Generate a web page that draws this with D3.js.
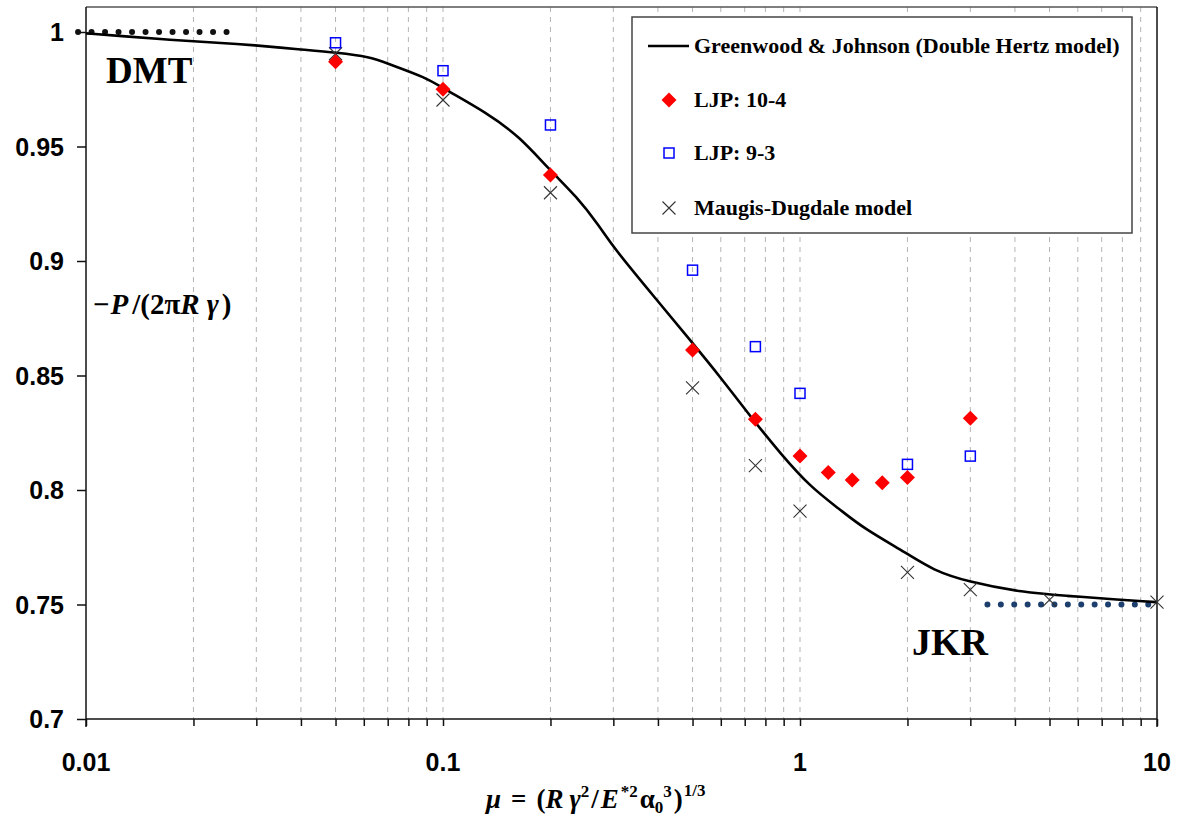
<!DOCTYPE html>
<html>
<head>
<meta charset="utf-8">
<script src="https://cdn.jsdelivr.net/npm/d3@7"></script>
<style>
  html, body { margin: 0; padding: 0; background: #fff; }
  svg { display: block; }
</style>
</head>
<body>
<svg id="chart" width="1179" height="817"></svg>
<script>
// Greenwood & Johnson (double Hertz model) pull-off curve
const gjMu   = [0.01, 0.0124, 0.0172, 0.0237, 0.0293, 0.0397, 0.0505, 0.0625, 0.0697, 0.09, 0.1,
                0.133, 0.164, 0.199, 0.237, 0.275, 0.299, 0.397, 0.492, 0.597, 0.739, 0.879,
                1.067, 1.294, 1.501, 2.0, 2.358, 2.937, 4.213, 5.706, 6.925, 9.56, 10];
const gjLoad = [0.9994, 0.9983, 0.9965, 0.9953, 0.9943, 0.9924, 0.9910, 0.9891, 0.9863, 0.980, 0.9754,
                0.9646, 0.9543, 0.9397, 0.9281, 0.915, 0.9062, 0.883, 0.8655, 0.8495, 0.8306, 0.8162,
                0.8014, 0.7915, 0.7834, 0.7722, 0.765, 0.760, 0.7552, 0.7537, 0.7527, 0.7512, 0.751];

// Lennard-Jones potential, 10-4 law
const ljp104Mu   = [0.05, 0.1, 0.2, 0.5, 0.75, 1, 1.2, 1.4, 1.7, 2, 3];
const ljp104Load = [0.987, 0.975, 0.9376, 0.8611, 0.8309, 0.8148, 0.8076, 0.8044, 0.8032, 0.8055, 0.8313];

// Lennard-Jones potential, 9-3 law
const ljp93Mu   = [0.05, 0.1, 0.2, 0.5, 0.75, 1, 2, 3];
const ljp93Load = [0.9953, 0.9831, 0.9594, 0.896, 0.8626, 0.8422, 0.8112, 0.8148];

// Maugis-Dugdale model
const mdMu   = [0.05, 0.1, 0.2, 0.5, 0.75, 1, 2, 3, 5, 10];
const mdLoad = [0.9905, 0.9703, 0.9298, 0.8446, 0.8106, 0.7908, 0.7640, 0.7565, 0.752, 0.751];

// DMT and JKR limits
const dmtMu = [0.0095, 0.026];
const dmtLoad = [1, 1];
const jkrMu = [3.35, 10];
const jkrLoad = [0.75, 0.75];

const xTickValues = [0.01, 0.1, 1, 10];
const xTickLabels = ["0.01", "0.1", "1", "10"];
const yTickValues = [0.7, 0.75, 0.8, 0.85, 0.9, 0.95, 1];
const yTickLabels = ["0.7", "0.75", "0.8", "0.85", "0.9", "0.95", "1"];

const legendLabels = ["Greenwood & Johnson (Double Hertz model)", "LJP: 10-4", "LJP: 9-3", "Maugis-Dugdale model"];

const zip = (xs, ys) => xs.map((x, i) => ({ x, y: ys[i] }));

const svg = d3.select("#chart");
const W = 1179, H = 817;
const plot = { left: 86, right: 1157, top: 7, bottom: 719 };

svg.append("rect").attr("width", W).attr("height", H).attr("fill", "#fff");

const x = d3.scaleLog().domain([0.01, 10]).range([plot.left, plot.right]);
const y = d3.scaleLinear().domain([0.7, 1]).range([plot.bottom, 32]);

// minor log positions for grid and ticks
const logTicks = x.ticks(); // 0.01,0.02,...,10

// vertical dashed grid
svg.append("g").selectAll("line")
  .data(logTicks.filter(v => v > 0.0100001 && v < 9.9999))
  .join("line")
  .attr("x1", d => x(d)).attr("x2", d => x(d))
  .attr("y1", plot.top).attr("y2", plot.bottom)
  .attr("stroke", "#b4b4b4").attr("stroke-width", 1)
  .attr("stroke-dasharray", "5,5");

// plot frame (top / right)
svg.append("line").attr("x1", plot.left).attr("x2", plot.right)
  .attr("y1", plot.top).attr("y2", plot.top)
  .attr("stroke", "#555").attr("stroke-width", 1.5);
svg.append("line").attr("x1", plot.right).attr("x2", plot.right)
  .attr("y1", plot.top).attr("y2", plot.bottom + 8)
  .attr("stroke", "#111").attr("stroke-width", 1.5);

// x axis
const xAxis = d3.axisBottom(x).tickValues(logTicks).tickSize(7).tickFormat("");
const gx = svg.append("g").attr("transform", `translate(0,${plot.bottom})`).call(xAxis);
gx.select(".domain").attr("stroke", "#111").attr("stroke-width", 1.5).attr("d", `M${plot.left},0H${plot.right}`);
gx.selectAll(".tick line").attr("stroke", "#111").attr("stroke-width", 1.5);

svg.append("g").selectAll("text")
  .data(xTickValues)
  .join("text")
  .attr("x", d => x(d)).attr("y", 771)
  .attr("text-anchor", "middle")
  .attr("font-family", "Liberation Sans, Arial, sans-serif")
  .attr("font-weight", "bold").attr("font-size", 25)
  .attr("fill", "#000")
  .text((d, i) => xTickLabels[i]);

// y axis
const yAxis = d3.axisLeft(y).tickValues(yTickValues).tickSize(9).tickFormat("");
const gy = svg.append("g").attr("transform", `translate(${plot.left},0)`).call(yAxis);
gy.select(".domain").attr("stroke", "#111").attr("stroke-width", 1.5).attr("d", `M0,${plot.top}V${plot.bottom + 8}`);
gy.selectAll(".tick line").attr("stroke", "#111").attr("stroke-width", 1.5);

svg.append("g").selectAll("text")
  .data(yTickValues)
  .join("text")
  .attr("x", 64).attr("y", d => y(d) + 9)
  .attr("text-anchor", "end")
  .attr("font-family", "Liberation Sans, Arial, sans-serif")
  .attr("font-weight", "bold").attr("font-size", 25)
  .attr("fill", "#000")
  .text((d, i) => yTickLabels[i]);

// DMT / JKR dotted limits
const limitLine = d3.line().x(d => x(d.x)).y(d => y(d.y));
svg.append("path").attr("d", limitLine(zip(dmtMu, dmtLoad)))
  .attr("fill", "none").attr("stroke", "#111").attr("stroke-width", 6)
  .attr("stroke-linecap", "round").attr("stroke-dasharray", "0,13.5");
svg.append("path").attr("d", limitLine(zip(jkrMu, jkrLoad)))
  .attr("fill", "none").attr("stroke", "#1c3f6e").attr("stroke-width", 6)
  .attr("stroke-linecap", "round").attr("stroke-dasharray", "0,13.4");

// Greenwood & Johnson curve
svg.append("path")
  .attr("d", d3.line().curve(d3.curveBasis).x(d => x(d.x)).y(d => y(d.y))(zip(gjMu, gjLoad)))
  .attr("fill", "none").attr("stroke", "#000").attr("stroke-width", 2.6)
  .attr("stroke-linejoin", "round");

// marker shapes
const crossPath = s => `M${-s},${-s}L${s},${s}M${-s},${s}L${s},${-s}`;
const diamondPath = s => `M0,${-s}L${s},0L0,${s}L${-s},0Z`;

// Maugis-Dugdale crosses
svg.append("g").selectAll("path")
  .data(zip(mdMu, mdLoad)).join("path")
  .attr("transform", d => `translate(${x(d.x)},${y(d.y)})`)
  .attr("d", crossPath(6.5))
  .attr("stroke", "#333").attr("stroke-width", 1.1).attr("fill", "none");

// LJP 9-3 squares
svg.append("g").selectAll("rect")
  .data(zip(ljp93Mu, ljp93Load)).join("rect")
  .attr("x", d => x(d.x) - 5).attr("y", d => y(d.y) - 5)
  .attr("width", 10).attr("height", 10)
  .attr("fill", "none").attr("stroke", "#0000ff").attr("stroke-width", 1.5);

// LJP 10-4 diamonds
svg.append("g").selectAll("path")
  .data(zip(ljp104Mu, ljp104Load)).join("path")
  .attr("transform", d => `translate(${x(d.x)},${y(d.y)})`)
  .attr("d", diamondPath(7.5))
  .attr("fill", "#ff0000");

// region labels
const serif = "Liberation Serif, 'Times New Roman', serif";
svg.append("text").attr("x", 106).attr("y", 83)
  .attr("font-family", serif).attr("font-weight", "bold").attr("font-size", 37)
  .text("DMT");
svg.append("text").attr("x", 912).attr("y", 655)
  .attr("font-family", serif).attr("font-weight", "bold").attr("font-size", 38)
  .text("JKR");

// legend
const lg = svg.append("g");
lg.append("rect").attr("x", 632).attr("y", 17).attr("width", 500).attr("height", 216)
  .attr("fill", "#fff").attr("stroke", "#444").attr("stroke-width", 1.5);
const rowY = [46, 100, 153, 208];
lg.append("line").attr("x1", 648).attr("x2", 689).attr("y1", rowY[0]).attr("y2", rowY[0])
  .attr("stroke", "#000").attr("stroke-width", 2.6);
lg.append("path").attr("transform", `translate(669,${rowY[1]})`).attr("d", diamondPath(7.5)).attr("fill", "#ff0000");
lg.append("rect").attr("x", 664).attr("y", rowY[2] - 5).attr("width", 10).attr("height", 10)
  .attr("fill", "none").attr("stroke", "#0000ff").attr("stroke-width", 1.5);
lg.append("path").attr("transform", `translate(669,${rowY[3]})`).attr("d", crossPath(6.5))
  .attr("stroke", "#333").attr("stroke-width", 1.1);
lg.selectAll("text.lbl").data(legendLabels).join("text").attr("class", "lbl")
  .attr("x", 694).attr("y", (d, i) => rowY[i] + 7)
  .attr("font-family", serif).attr("font-weight", "bold").attr("font-size", 22)
  .text(d => d);

// y axis title: −P/(2πRγ)
const yt = svg.append("text").attr("x", 93).attr("y", 314)
  .attr("font-family", serif).attr("font-weight", "bold").attr("font-size", 29);
yt.append("tspan").text("\u2212");
yt.append("tspan").attr("font-style", "italic").attr("dx", 1).text("P");
yt.append("tspan").attr("dx", 4).text("/(2\u03C0");
yt.append("tspan").attr("font-style", "italic").text("R");
yt.append("tspan").attr("font-style", "italic").attr("dx", 7).text("\u03B3");
yt.append("tspan").attr("dx", 3).text(")");

// x axis title: μ = (Rγ²/E*²α₀³)^(1/3)
const xt = svg.append("text").attr("x", 486).attr("y", 808)
  .attr("font-family", serif).attr("font-weight", "bold").attr("font-size", 27);
xt.append("tspan").attr("font-style", "italic").text("\u03BC");
xt.append("tspan").attr("dx", 10).text("=");
xt.append("tspan").attr("dx", 10).text("(");
xt.append("tspan").attr("font-style", "italic").text("R");
xt.append("tspan").attr("font-style", "italic").attr("dx", 6).text("\u03B3");
xt.append("tspan").attr("font-size", 17).attr("dy", -11).text("2");
xt.append("tspan").attr("dy", 11).attr("dx", 2).text("/");
xt.append("tspan").attr("font-style", "italic").attr("dx", 2).text("E");
xt.append("tspan").attr("font-size", 17).attr("dy", -11).attr("dx", 2).text("*2");
xt.append("tspan").attr("dy", 11).attr("dx", 2).text("\u03B1");
xt.append("tspan").attr("font-size", 17).attr("dy", 5).text("0");
xt.append("tspan").attr("font-size", 17).attr("dy", -16).text("3");
xt.append("tspan").attr("dy", 11).attr("dx", 2).text(")");
xt.append("tspan").attr("font-size", 17).attr("dy", -12).attr("dx", 1).text("1/3");
</script>
</body>
</html>
